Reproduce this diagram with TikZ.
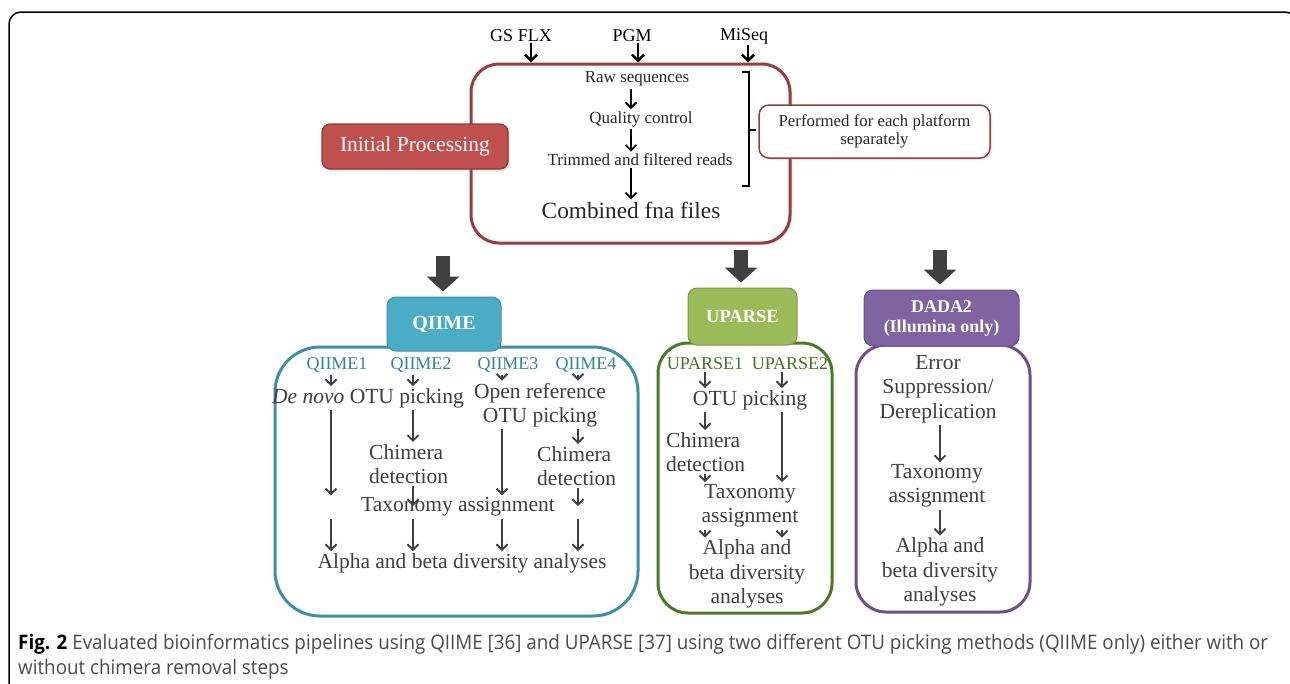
\documentclass[tikz,border=0pt]{standalone}
\usepackage{fontspec}
\setmainfont{Liberation Serif}
\newfontfamily\capfont[FakeStretch=0.94]{Open Sans}
\usetikzlibrary{arrows.meta,positioning,shadows}

\definecolor{boxred}{HTML}{C0504D}
\definecolor{boxredline}{HTML}{8C3836}
\definecolor{mainline}{HTML}{9A3C3E}
\definecolor{qteal}{HTML}{4BACC6}
\definecolor{qtealline}{HTML}{3E8FA8}
\definecolor{qtealtext}{HTML}{31849B}
\definecolor{ugreen}{HTML}{9BBB59}
\definecolor{ugreenline}{HTML}{4A7A26}
\definecolor{ugreentext}{HTML}{3C7A1E}
\definecolor{dpurple}{HTML}{8064A2}
\definecolor{dpurpleline}{HTML}{6A5188}
\definecolor{txtgray}{HTML}{3F3F3F}
\definecolor{capgray}{HTML}{4A4A4A}
\definecolor{arrgray}{HTML}{404040}

\begin{document}
\begin{tikzpicture}[x=1pt,y=-1pt,
txt/.style={text=txtgray, font=\fontsize{21.5}{24.5}\selectfont, inner sep=1pt, align=center},
small/.style={text=black!85, font=\fontsize{17}{18}\selectfont, inner sep=1pt},
lbl/.style={font=\fontsize{18}{21}\selectfont, inner sep=1pt},
arr/.style={draw=arrgray, line width=1.9pt, -{Straight Barb[length=5.5pt,width=11pt]}, shorten <=1pt, shorten >=1pt},
toparr/.style={draw=black, line width=2.6pt, -{Straight Barb[length=6pt,width=12pt]}},
bigarr/.style={draw=arrgray, line width=14pt, -{Triangle[length=15pt,width=32pt]}, shorten >=5pt},
body/.style={draw, rounded corners=30pt, line width=3pt, fill=white},
head/.style={rounded corners=9pt, line width=1pt, text=white, font=\bfseries\fontsize{18.5}{21}\selectfont, align=center, inner sep=0pt},
]
\useasboundingbox (0,0) rectangle (1290,683);
\fill[white] (0,0) rectangle (1290,683);
%Frame
\begin{scope}
\clip (0,0) rectangle (1290,683);
\draw[line width=1.5pt, rounded corners=12pt] (9,720) -- (9,12) -- (1297,12) -- (1297,720);
\end{scope}

%Initial processing
\node[draw=mainline, line width=3pt, rounded corners=28pt, minimum width=319pt, minimum height=179pt, fill=white, drop shadow={opacity=0.2, shadow xshift=2pt, shadow yshift=-2pt}] (main) at (630.5,153.5) {};
\node[lbl] (gs)    at (521,36) {GS FLX};
\node[lbl] (pgm)   at (632,36) {PGM};
\node[lbl] (miseq) at (744,36) {MiSeq};
\draw[toparr] ([xshift=10pt]gs.south) -- ([xshift=10pt]gs.south |- main.north);
\draw[toparr] ([xshift=6pt]pgm.south) -- ([xshift=6pt]pgm.south |- main.north);
\draw[toparr] ([xshift=4pt]miseq.south) -- ([xshift=4pt]miseq.south |- main.north);

\node[small] (raw)  at (637,79)  {Raw sequences};
\node[small] (qc)   at (641,119) {Quality control};
\node[small] (trim) at (640,160) {Trimmed and filtered reads};
\node[text=black!85, font=\fontsize{23.3}{26}\selectfont, inner sep=1pt] (comb) at (631,210) {Combined fna files};
\draw[arr, draw=black] (raw.south -| comb)  -- (qc.north -| comb);
\draw[arr, draw=black] (qc.south -| comb)   -- (trim.north -| comb);
\draw[arr, draw=black] (trim.south -| comb) -- (comb.north);

\draw[line width=1.8pt] (742,72) -- (749,72) -- (749,186) -- (742,186);
\draw[line width=1.8pt] (749,130) -- (756,130);

\node[draw=mainline, line width=1.5pt, rounded corners=10pt, minimum width=231pt, minimum height=53pt, fill=white, drop shadow={opacity=0.2, shadow xshift=2pt, shadow yshift=-2pt}, align=center, small, font=\fontsize{16.8}{18}\selectfont] (perf) at (874.5,131.5) {Performed for each platform\\separately};
\node[fill=boxred, draw=boxredline, line width=1.2pt, rounded corners=8pt, minimum width=186pt, minimum height=45pt, text=white, font=\fontsize{21.5}{24}\selectfont, drop shadow={opacity=0.2, shadow xshift=2pt, shadow yshift=-2pt}] (init) at (415,146.5) {Initial Processing};

%Pipeline boxes
\node[body, draw=qtealline, minimum width=363pt, minimum height=269pt, rounded corners=45pt] (qbody) at (456.5,481.5) {};
\node[body, draw=ugreenline, minimum width=174pt, minimum height=270pt] (ubody) at (745,478) {};
\node[body, draw=dpurpleline, minimum width=174pt, minimum height=267pt] (dbody) at (943,478.5) {};
\node[head, fill=qteal, draw=qtealline, minimum width=114pt, minimum height=54pt, font=\bfseries\fontsize{20}{22}\selectfont] (qhead) at (444,324) {QIIME};
\node[head, fill=ugreen, draw=ugreen!80!black, minimum width=109pt, minimum height=57pt] (uhead) at (742.5,316.5) {UPARSE};
\node[head, fill=dpurple, draw=dpurpleline, minimum width=155pt, minimum height=56pt, font=\bfseries\fontsize{18}{20}\selectfont] (dhead) at (941.5,318) {DADA2\\(Illumina only)};

\coordinate (qin) at (443,256);
\coordinate (uin) at (741,250);
\coordinate (din) at (940,250);
\draw[bigarr] (qin) -- (qin |- qhead.north);
\draw[bigarr] (uin) -- (uin |- uhead.north);
\draw[bigarr] (din) -- (din |- dhead.north);

%QIIME
\coordinate (c1) at (331,0);
\coordinate (c2) at (413,0);
\coordinate (c3) at (502,0);
\coordinate (c4) at (578,0);
\node[lbl, text=qtealtext] (q1) at (337,365) {QIIME1};
\node[lbl, text=qtealtext] (q2) at (421,365) {QIIME2};
\node[lbl, text=qtealtext] (q3) at (508,365) {QIIME3};
\node[lbl, text=qtealtext] (q4) at (586,365) {QIIME4};
\node[txt] (denovo)  at (368,398) {\textit{De novo} OTU picking};
\node[txt] (openref) at (540,405) {Open reference\\OTU picking};
\node[txt, align=left, anchor=west] (chimA) at (368,464) {Chimera\\detection};
\node[txt, align=left, anchor=west] (chimB) at (536,466) {Chimera\\detection};
\node[txt] (qtax)   at (458,507) {Taxonomy assignment};
\node[txt] (qalpha) at (462,563) {Alpha and beta diversity analyses};

\draw[arr] (q1.south -| c1) -- (denovo.north -| c1);
\draw[arr] (q2.south -| c2) -- (denovo.north -| c2);
\draw[arr] (q3.south -| c3) -- (openref.north -| c3);
\draw[arr] (q4.south -| c4) -- (openref.north -| c4);
\draw[arr] (denovo.south -| c1)  -- (qtax.north -| c1);
\draw[arr] (denovo.south -| c2)  -- (chimA.north -| c2);
\draw[arr] (openref.south -| c3) -- (qtax.north -| c3);
\draw[arr] (openref.south -| c4) -- (chimB.north -| c4);
\draw[arr] (chimA.south -| c2) -- (qtax.center -| c2);
\draw[arr] (chimB.south -| c4) -- (qtax.center -| c4);
\foreach \c in {c1,c2,c3,c4}
  \draw[arr] (qtax.south -| \c) -- (qalpha.north -| \c);

%UPARSE
\coordinate (d1) at (705,0);
\coordinate (d2) at (782,0);
\node[lbl, text=ugreentext] (u1) at (705,364) {UPARSE1};
\node[lbl, text=ugreentext] (u2) at (790,364) {UPARSE2};
\node[txt] (uotu) at (750,400) {OTU picking};
\node[txt, align=left, anchor=west] (uchim) at (665,452) {Chimera\\detection};
\node[txt] (utax)   at (750,506) {Taxonomy\\assignment};
\node[txt] (ualpha) at (747,574) {Alpha and\\beta diversity\\analyses};
\draw[arr] (u1.south -| d1) -- (uotu.north -| d1);
\draw[arr] (u2.south -| d2) -- (uotu.north -| d2);
\draw[arr] (uotu.south -| d1) -- (uchim.north -| d1);
\draw[arr] (uotu.south -| d2) -- (utax.north -| d2);
\draw[arr] (uchim.south -| d1) -- (utax.north -| d1);
\draw[arr] (utax.south -| d1) -- (ualpha.north -| d1);
\draw[arr] (utax.south -| d2) -- (ualpha.north -| d2);

%DADA2
\node[txt] (err)    at (938,389) {Error\\Suppression/\\Dereplication};
\node[txt] (dtax)   at (937,486) {Taxonomy\\assignment};
\node[txt] (dalpha) at (940,572) {Alpha and\\beta diversity\\analyses};
\draw[arr] (err.south -| dalpha) -- (dtax.north -| dalpha);
\draw[arr] (dtax.south -| dalpha) -- (dalpha.north);

%Caption
\node[anchor=north west, align=left, inner sep=0pt, text=capgray, font=\capfont\fontsize{20}{25}\selectfont] (cap) at (18,634)
  {\textcolor{black}{\textbf{Fig. 2}} Evaluated bioinformatics pipelines using QIIME [36] and UPARSE [37] using two different OTU picking methods (QIIME only) either with or\\without chimera removal steps};
\end{tikzpicture}
\end{document}
